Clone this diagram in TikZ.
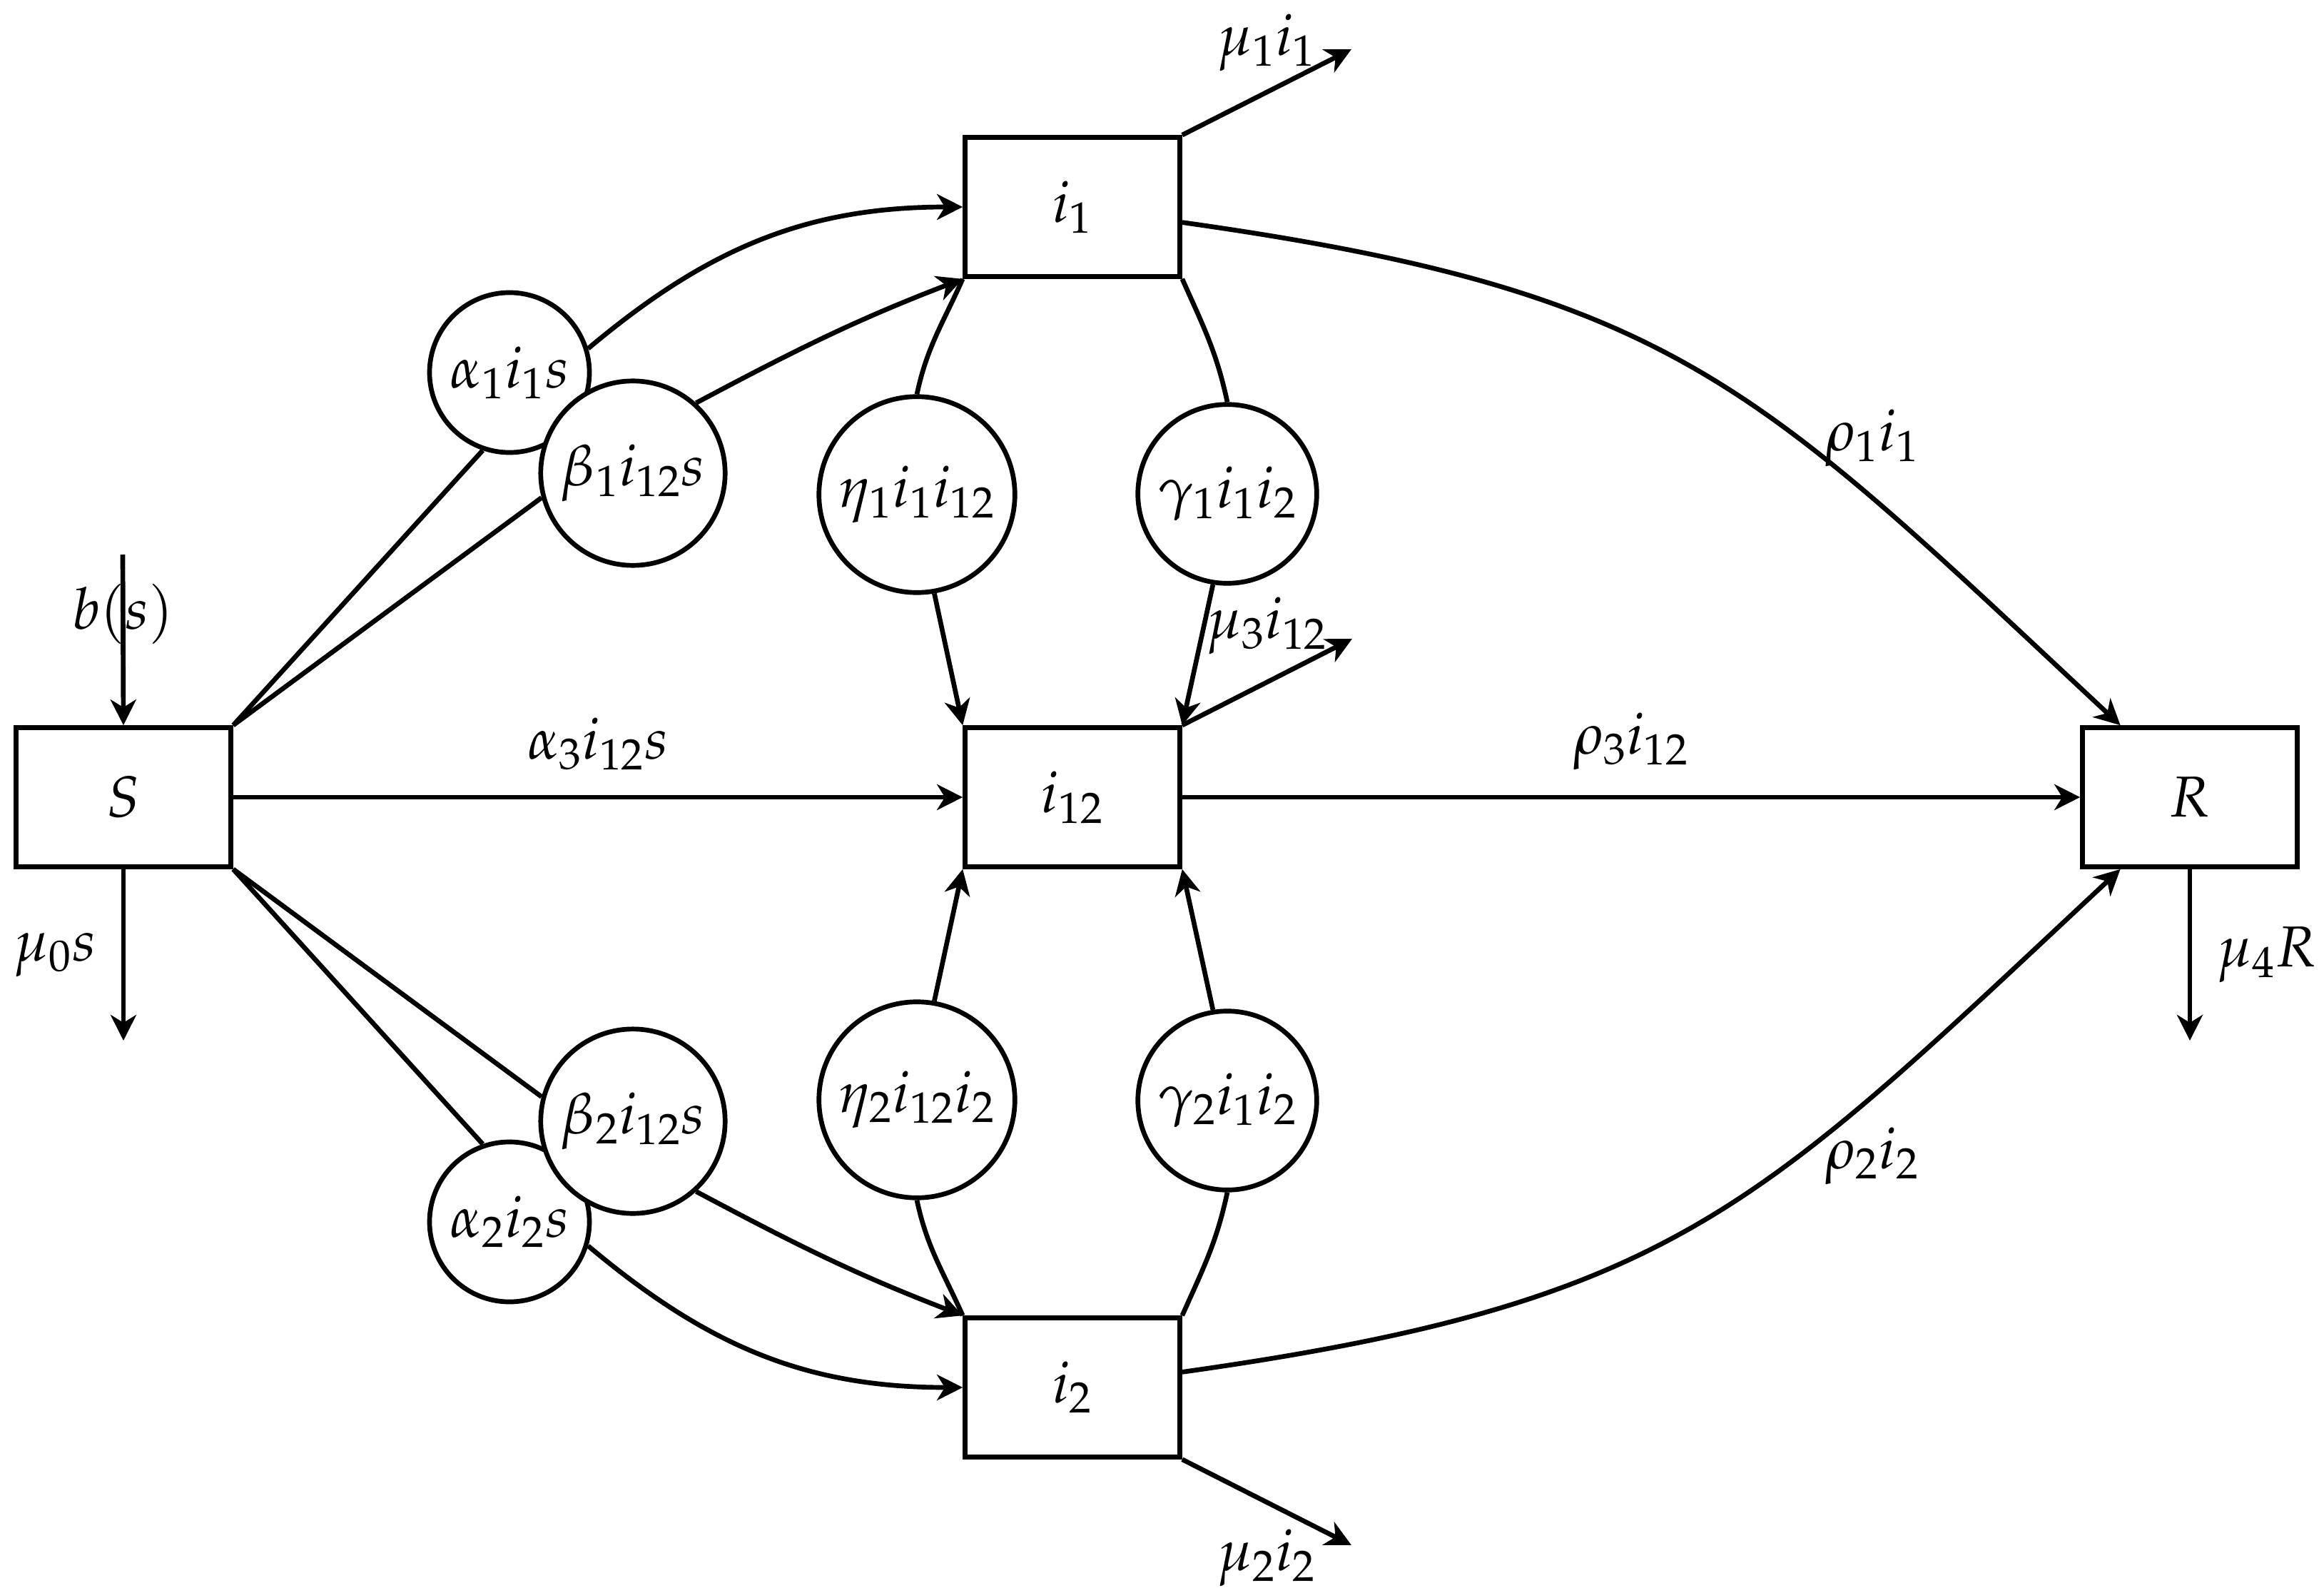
\documentclass[tikz,border=0pt]{standalone}
\usepackage{mathpazo}
\usetikzlibrary{arrows.meta,calc}
\begin{document}
\begin{tikzpicture}[x=1cm,y=1cm, line width=1.9pt,
  font=\fontsize{23}{28}\selectfont,
  >={Stealth[length=0.36cm,width=0.36cm,inset=0.11cm]},
  comp/.style={draw, rectangle, minimum width=3.01cm, minimum height=1.95cm, inner sep=0pt},
  rate/.style={draw, circle, fill=white, inner sep=4.5pt},
  lab/.style={inner sep=10pt}]
\useasboundingbox (0,0) rectangle (32.57,-22.32);

% compartments
\node[comp] (S)   at (1.73,-11.17)  {$S$};
\node[comp] (i1)  at (15.03,-2.90)  {$i_1$};
\node[comp] (i12) at (15.03,-11.17) {$i_{12}$};
\node[comp] (i2)  at (15.03,-19.44) {$i_2$};
\node[comp] (R)   at (30.69,-11.17) {$R$};

% rate circles
\node[rate] (a1) at (7.14,-5.22)   {$\alpha_1 i_1 s$};
\node[rate] (b1) at (8.87,-6.63)   {$\beta_1 i_{12} s$};
\node[rate] (e1) at (12.85,-6.93)  {$\eta_1 i_1 i_{12}$};
\node[rate] (g1) at (17.20,-6.92)  {$\gamma_1 i_1 i_2$};
\node[rate] (a2) at (7.14,-17.12)  {$\alpha_2 i_2 s$};
\node[rate] (b2) at (8.87,-15.71)  {$\beta_2 i_{12} s$};
\node[rate] (e2) at (12.85,-15.41) {$\eta_2 i_{12} i_2$};
\node[rate] (g2) at (17.20,-15.42) {$\gamma_2 i_1 i_2$};

% free ends
\coordinate (bin) at (1.72,-7.77);
\coordinate (m0)  at (1.73,-14.58);
\coordinate (m4)  at (30.69,-14.58);
\coordinate (m1)  at ($(i1.north east)+(2.37,1.20)$);
\coordinate (m3)  at ($(i12.north east)+(2.38,1.21)$);
\coordinate (m2)  at ($(i2.south east)+(2.37,-1.20)$);

% inflow / outflows
\draw[->] (bin) -- node[pos=0.35] (lbs) {$b(s)$} (S.north);
\draw[->] (S.south) -- node[lab,left] (lm0) {$\mu_0 s$} (m0);
\draw[->] (R.south) -- node[lab,right] (lm4) {$\mu_4 R$} (m4);
\draw[->] (i1.north east) -- node[above,inner sep=7.5pt] (lm1) {$\mu_1 i_1$} (m1);
\draw[->] (i12.north east) -- node[lab,above] (lm3) {$\mu_3 i_{12}$} (m3);
\draw[->] (i2.south east) -- node[lab,below] (lm2) {$\mu_2 i_2$} (m2);

% straight transfers
\draw[->] (S.east) -- node[lab,above] (la3) {$\alpha_3 i_{12} s$} (i12.west);
\draw[->] (i12.east) -- node[lab,above] (lr3) {$\rho_3 i_{12}$} (R.west);

% S to i1 / i2 through circles
\draw (S.north east) -- (a1.251);
\draw[->] (a1.17) to[out=40,in=180] (i1.west);
\draw (S.north east) -- (b1.195);
\draw[->] (b1.48) to[out=28,in=201] (i1.south west);
\draw (S.south east) -- (a2.109);
\draw[->] (a2.-17) to[out=-40,in=180] (i2.west);
\draw (S.south east) -- (b2.165);
\draw[->] (b2.-48) to[out=-28,in=159] (i2.north west);

% i1 / i2 to i12 through circles
\draw (e1.north) to[out=78,in=246] (i1.south west);
\draw[->] (e1.280) -- (i12.north west);
\draw (g1.north) to[out=102,in=-66] (i1.south east);
\draw[->] (g1.261) -- (i12.north east);
\draw (e2.south) to[out=-78,in=114] (i2.north west);
\draw[->] (e2.80) -- (i12.south west);
\draw (g2.south) to[out=-102,in=66] (i2.north east);
\draw[->] (g2.99) -- (i12.south east);

% recovery curves
\draw[->] (i1.-8) .. controls +(-8:7) and +(137:7) .. (R.134);
\node (lr1) at (26.24,-6.14) {$\rho_1 i_1$};
\draw[->] (i2.8) .. controls +(8:7) and +(-137:7) .. (R.-134);
\node (lr2) at (26.24,-16.20) {$\rho_2 i_2$};
\end{tikzpicture}
\end{document}
